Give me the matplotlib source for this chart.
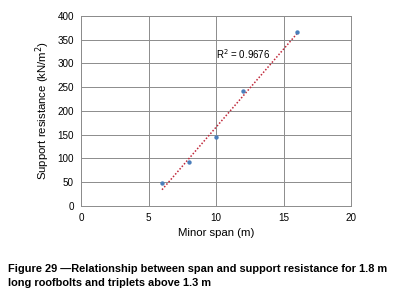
import numpy as np
import matplotlib.pyplot as plt

plt.rcParams['font.family'] = ['Liberation Sans', 'DejaVu Sans']

# data
span = [6, 8, 10, 12, 16]
resistance = [48, 92, 146, 243, 366]
r2_label = "R$^2$ = 0.9676"
caption = ("Figure 29 \u2014Relationship between span and support resistance for 1.8 m\n"
           "long roofbolts and triplets above 1.3 m")

fig = plt.figure(figsize=(3.95, 3.02), dpi=100)
ax = fig.add_axes([0.205, 0.318, 0.684, 0.629])

# linear trendline over the data range
coef = np.polyfit(span, resistance, 1)
xt = np.array([min(span), max(span)])
ax.plot(xt, np.polyval(coef, xt), color="#c0283a", linestyle=(0, (1, 1.2)), linewidth=1.1, zorder=2)
ax.scatter(span, resistance, s=10, color="#4a7ebb", zorder=3, linewidths=0)

ax.set_xlim(0, 20)
ax.set_ylim(0, 400)
ax.set_xticks([0, 5, 10, 15, 20])
ax.set_yticks(range(0, 401, 50))
ax.grid(True, color="#8c8c8c", linewidth=0.7)
ax.set_axisbelow(True)
for s in ax.spines.values():
    s.set_color("#8c8c8c")
    s.set_linewidth(0.7)
ax.tick_params(length=0, labelsize=7.1, pad=5)

ax.set_xlabel("Minor span (m)", fontsize=8.2, labelpad=4)
ax.set_ylabel("Support resistance (kN/m$^2$)", fontsize=8.2, labelpad=4)
ax.text(10.0, 320, r2_label, fontsize=7.0, va="center", ha="left")

fig.text(0.02, 0.126, caption, fontsize=7.95, fontweight="bold", ha="left", va="top", linespacing=1.55)

fig.savefig("out.png", dpi=100)
